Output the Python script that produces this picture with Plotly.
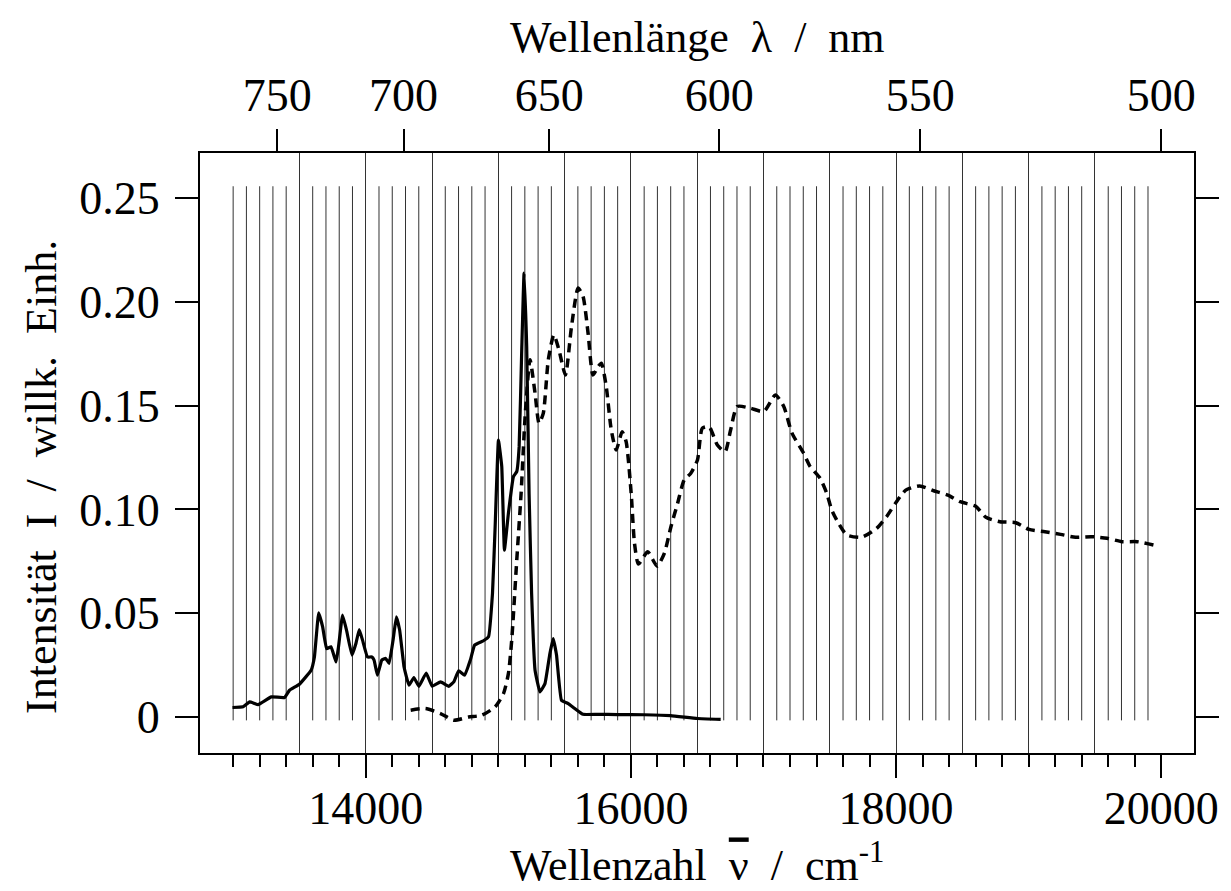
import numpy as np
import plotly.graph_objects as go

# ---- data ----
nu_solid = [12995, 13075, 13125, 13188, 13288, 13388, 13425, 13500, 13588, 13613,
            13645, 13675, 13705, 13738, 13776, 13795, 13825, 13855, 13896, 13926,
            13951, 13976, 14013, 14046, 14063, 14088, 14121, 14151, 14176, 14206,
            14231, 14256, 14289, 14326, 14363, 14401, 14456, 14501, 14564, 14626,
            14664, 14701, 14746, 14789, 14821, 14888, 14926, 14956, 14976, 15001,
            15026, 15046, 15076, 15114, 15139, 15157, 15176, 15194, 15214, 15232,
            15251, 15277, 15314, 15352, 15389, 15414, 15439, 15476, 15527, 15577,
            15639, 15751, 15900, 16100, 16300, 16501, 16677]
I_solid = [0.0047, 0.005, 0.0074, 0.0061, 0.0098, 0.0095, 0.013, 0.0159, 0.0226, 0.029,
           0.0502, 0.0435, 0.033, 0.0339, 0.0266, 0.034, 0.0491, 0.0419, 0.0299, 0.0355,
           0.0422, 0.0371, 0.029, 0.029, 0.0275, 0.0202, 0.0275, 0.0283, 0.0259, 0.0371,
           0.0483, 0.0419, 0.0242, 0.0154, 0.0191, 0.0149, 0.0213, 0.0149, 0.017, 0.0149,
           0.017, 0.0223, 0.0202, 0.0275, 0.0347, 0.0368, 0.0387, 0.0596, 0.0917, 0.1334,
           0.1206, 0.0804, 0.0981, 0.1158, 0.1182, 0.1302, 0.1752, 0.2137, 0.1784, 0.1078,
           0.0596, 0.0226, 0.0122, 0.0162, 0.0307, 0.0379, 0.0299, 0.0082, 0.0066, 0.0042,
           0.0014, 0.0014, 0.0013, 0.0012, 0.0008, -0.0006, -0.001]

nu_dash = [14339, 14451, 14564, 14664, 14776, 14876, 14976, 15039, 15076, 15101,
           15139, 15172, 15202, 15239, 15277, 15307, 15339, 15377, 15419, 15457,
           15506, 15552, 15602, 15639, 15677, 15714, 15752, 15777, 15814, 15852,
           15889, 15934, 15964, 16002, 16027, 16057, 16127, 16197, 16252, 16302,
           16352, 16402, 16452, 16502, 16539, 16590, 16652, 16710, 16752, 16802,
           16902, 17003, 17090, 17153, 17215, 17303, 17352, 17427, 17477, 17515,
           17566, 17628, 17740, 17853, 17928, 17998, 18073, 18178, 18283, 18391,
           18483, 18598, 18678, 18783, 18903, 19003, 19123, 19241, 19354, 19474,
           19592, 19704, 19817, 19941]
I_dash = [0.0034, 0.0042, 0.0018, -0.0014, 0.0001, 0.001, 0.005, 0.0114, 0.021, 0.037,
          0.0756, 0.1078, 0.1447, 0.172, 0.1559, 0.1415, 0.1462, 0.172, 0.184, 0.1768,
          0.1647, 0.188, 0.2065, 0.2025, 0.1848, 0.1647, 0.1687, 0.1704, 0.1591, 0.1382,
          0.1286, 0.1374, 0.1326, 0.1078, 0.0837, 0.0737, 0.0796, 0.0727, 0.0789, 0.0917,
          0.1029, 0.1142, 0.1174, 0.1238, 0.1391, 0.1398, 0.131, 0.1278, 0.1382, 0.1495,
          0.1487, 0.1471, 0.1551, 0.1495, 0.1367, 0.127, 0.1206, 0.115, 0.1078, 0.0997,
          0.0933, 0.0877, 0.0866, 0.0909, 0.0965, 0.1032, 0.1093, 0.1113, 0.109, 0.1069,
          0.1037, 0.1016, 0.0962, 0.0941, 0.0936, 0.0904, 0.0893, 0.088, 0.0866, 0.0869,
          0.0861, 0.0845, 0.0845, 0.0829]

# axis ticks
x_major = [13000, 14000, 15000, 16000, 17000, 18000, 19000, 20000]
x_major_labels = ["", "14000", "", "16000", "", "18000", "", "20000"]
y_ticks = [0, 0.05, 0.10, 0.15, 0.20, 0.25]
y_tick_labels = ["0", "0.05", "0.10", "0.15", "0.20", "0.25"]
wavelengths_nm = [750, 700, 650, 600, 550, 500]
wavelength_labels = ["750", "700", "650", "600", "550", "500"]

# grid positions
grid_long = list(range(13500, 19501, 500))
grid_short = [v for v in range(13000, 19901, 100) if v % 500 != 0 or v == 13000]
grid_short_span = [-0.0015, 0.2555]

X_RANGE = [12750, 20247]
Y_RANGE = [-0.0172, 0.2715]

FONT = "Liberation Serif, Times New Roman, serif"
NB = "\u00a0"

fig = go.Figure()

# short vertical grid lines
gx, gy = [], []
for v in grid_short:
    gx += [v, v, None]
    gy += [grid_short_span[0], grid_short_span[1], None]
fig.add_trace(go.Scatter(x=gx, y=gy, mode="lines",
                         line=dict(color="#333333", width=1),
                         hoverinfo="skip", showlegend=False))

fig.add_trace(go.Scatter(x=nu_dash, y=I_dash, mode="lines",
                         line=dict(color="black", width=3.5, dash="9px,6px",
                                   shape="spline", smoothing=0.6),
                         showlegend=False))
fig.add_trace(go.Scatter(x=nu_solid, y=I_solid, mode="lines",
                         line=dict(color="black", width=3.2, shape="spline", smoothing=0.3),
                         showlegend=False))

# dummy trace for top axis
fig.add_trace(go.Scatter(x=[X_RANGE[0]], y=[0], xaxis="x2", mode="markers",
                         marker=dict(opacity=0), hoverinfo="skip", showlegend=False))
# dummy trace for long-grid axis
fig.add_trace(go.Scatter(x=[X_RANGE[0]], y=[0], xaxis="x3", mode="markers",
                         marker=dict(opacity=0), hoverinfo="skip", showlegend=False))

tickfont = dict(family=FONT, size=46, color="black")

fig.update_layout(
    width=1231, height=891,
    margin=dict(l=200, r=32, t=153, b=138),
    paper_bgcolor="white", plot_bgcolor="white",
    font=dict(family=FONT, color="black"),
    xaxis=dict(
        range=X_RANGE, tickmode="array", tickvals=x_major, ticktext=x_major_labels,
        ticks="outside", ticklen=23, tickwidth=1.5, tickcolor="black",
        tickfont=tickfont, showgrid=False, zeroline=False,
        showline=True, linewidth=2, linecolor="black", mirror=False,
        ticklabelstandoff=-9,
        minor=dict(tickmode="array", tickvals=list(range(13000, 20001, 200)),
                   ticks="outside", ticklen=12, tickwidth=1.5, tickcolor="black",
                   showgrid=False),
    ),
    xaxis2=dict(
        range=X_RANGE, overlaying="x", side="top", tickmode="array",
        tickvals=[1e7 / w for w in wavelengths_nm], ticktext=wavelength_labels,
        ticks="outside", ticklen=22, tickwidth=1.5, tickcolor="black",
        tickfont=tickfont, showgrid=False, zeroline=False,
        showline=True, linewidth=2, linecolor="black",
        ticklabelstandoff=0,
    ),
    xaxis3=dict(
        range=X_RANGE, overlaying="x", side="bottom", tickmode="array",
        tickvals=grid_long, showticklabels=False, ticks="",
        showgrid=True, gridcolor="#333333", gridwidth=1,
        zeroline=False, showline=False,
    ),
    yaxis=dict(
        range=Y_RANGE, tickmode="array", tickvals=y_ticks, ticktext=y_tick_labels,
        ticks="outside", ticklen=23, tickwidth=1.5, tickcolor="black",
        tickfont=tickfont, showgrid=False, zeroline=False,
        showline=True, linewidth=2, linecolor="black", mirror="ticks",
        ticklabelstandoff=6,
    ),
    annotations=[
        dict(text="Wellenzahl" + NB * 2 + "<span style='text-decoration:overline'>\u03bd</span>"
                  + NB * 2 + "/" + NB * 2 + "cm<sup>-1</sup>",
             xref="paper", yref="paper", x=0.5, y=-0.182, xanchor="center", yanchor="middle",
             showarrow=False, font=dict(family=FONT, size=44, color="black")),
        dict(text="Wellenlänge" + NB * 2 + "\u03bb" + NB * 2 + "/" + NB * 2 + "nm",
             xref="paper", yref="paper", x=0.5, y=1.192, xanchor="center", yanchor="middle",
             showarrow=False, font=dict(family=FONT, size=44, color="black")),
        dict(text="Intensität" + NB * 2 + "I" + NB * 2 + "/" + NB * 2 + "willk." + NB * 2 + "Einh.",
             xref="paper", yref="paper", x=-0.16, y=0.46, xanchor="center", yanchor="middle",
             textangle=-90, showarrow=False, font=dict(family=FONT, size=44, color="black")),
    ],
)

fig.write_html("out.html")
